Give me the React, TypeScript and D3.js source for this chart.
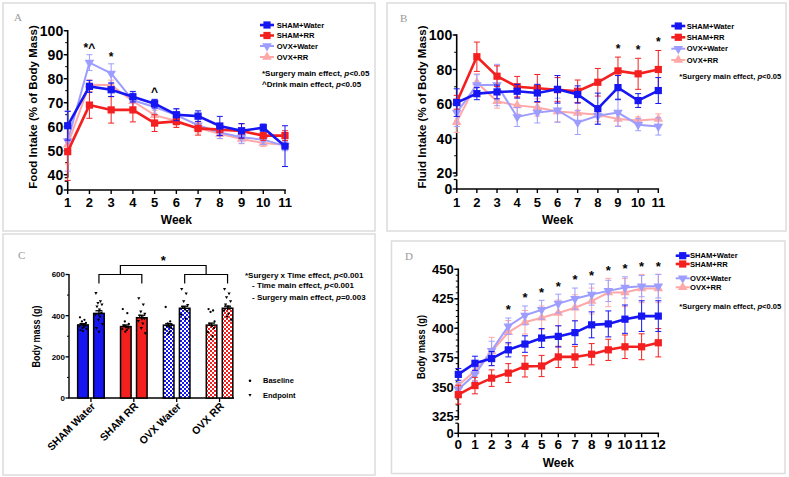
import * as d3 from 'd3';

// ---------- data: panel A (food intake, % of body mass) ----------
const weeksAB = [1, 2, 3, 4, 5, 6, 7, 8, 9, 10, 11];
const foodShamWater = [60.4, 76.8, 75.4, 72.5, 69.6, 65.0, 64.4, 60.3, 58.3, 59.6, 51.9];
const foodShamWaterErr = [6, 2.5, 2.8, 2.2, 1.8, 2.5, 2.2, 4, 3, 1.5, 8.5];
const foodShamRR = [49.6, 69.0, 67.0, 67.0, 61.5, 62.2, 59.3, 58.8, 58.2, 56.3, 56.3];
const foodShamRRErr = [12, 5.5, 5.5, 5, 3.5, 2.5, 2.8, 2.5, 3, 2, 2];
const foodOvxWater = [54.0, 86.7, 82.2, 71.0, 68.2, 64.8, 60.6, 57.6, 55.6, 54.6, 52.0];
const foodOvxWaterErr = [12.5, 3.3, 4, 3, 3, 2.5, 2.5, 2.5, 2.5, 2, 2];
const foodOvxRR = [52.5, 77.5, 77.4, 70.6, 64.8, 62.4, 59.4, 57.0, 54.9, 53.2, 52.5];
const foodOvxRRErr = [8, 2, 2, 2.5, 2, 2, 2, 2, 2, 1.5, 1.5];
const foodMarks = [
  { week: 2, text: '*^' },
  { week: 3, text: '*' },
  { week: 5, text: '^' },
];

// ---------- data: panel B (fluid intake, % of body mass) ----------
const fluidShamWater = [60.8, 66.0, 67.0, 67.4, 66.4, 68.5, 65.5, 57.3, 69.5, 62.0, 67.8];
const fluidShamWaterErr = [8, 3.5, 4, 4, 5, 8, 5, 9, 7, 4, 7.5];
const fluidShamRR = [61.0, 87.4, 76.1, 70.0, 69.1, 68.3, 67.4, 72.6, 79.2, 77.5, 80.0];
const fluidShamRRErr = [4, 8.5, 6, 6, 8, 7, 6.5, 8, 8, 9, 11];
const fluidOvxWater = [55.0, 71.0, 71.0, 52.5, 55.0, 56.4, 49.3, 53.2, 55.0, 48.0, 47.0];
const fluidOvxWaterErr = [8, 6, 12, 5.5, 6, 7, 7, 5, 8, 3.5, 5];
const fluidOvxRR = [49.5, 72.5, 61.6, 59.2, 58.0, 55.7, 54.8, 53.8, 51.3, 50.5, 51.3];
const fluidOvxRRErr = [6, 5, 4, 5, 5, 6, 6, 4, 4, 2, 3];
const fluidMarks = [
  { week: 9, text: '*' },
  { week: 10, text: '*' },
  { week: 11, text: '*' },
];

// ---------- data: panel D (body mass over time, g) ----------
const weeksD = [0, 1, 2, 3, 4, 5, 6, 7, 8, 9, 10, 11, 12];
const massShamWater = [360.9, 370.3, 374.3, 381.7, 386.6, 391.7, 393.1, 396.3, 402.9, 403.7, 407.7, 410.3, 410.3];
const massShamWaterErr = [5, 6, 6, 6, 7, 8, 9, 10, 11, 11, 12, 13, 13];
const massShamRR = [343.7, 351.4, 357.7, 362.0, 367.7, 368.0, 375.7, 375.7, 378.0, 381.7, 384.3, 384.3, 387.7];
const massShamRRErr = [8, 7, 7, 8, 9, 9, 9, 9, 9, 9, 10, 11, 12];
const massOvxWater = [348, 361, 381, 401.7, 410.9, 415.7, 420.9, 425.1, 428.6, 431.7, 434.6, 435.7, 435.7];
const massOvxWaterErr = [6, 6, 8, 7, 8, 8, 8, 9, 9, 9, 9, 9, 10];
const massOvxRR = [351.7, 363.7, 380.3, 396.6, 405.1, 408.9, 412.9, 417.4, 423.1, 430.3, 430.3, 433.7, 433.7];
const massOvxRRErr = [8, 8, 12, 10, 10, 10, 11, 11, 11, 12, 12, 12, 12];
const massMarks = [3, 4, 5, 6, 7, 8, 9, 10, 11, 12].map((w) => ({ week: w, text: '*' }));

// ---------- data: panel C (baseline vs endpoint body mass, g) ----------
const groupsC = ['SHAM Water', 'SHAM RR', 'OVX Water', 'OVX RR'];
const timesC = ['Baseline', 'Endpoint'];
const baselineMean = [355, 347, 354, 354];
const baselineErr = [6, 8, 7, 10];
const endpointMean = [411, 390, 436, 436];
const endpointErr = [13, 12, 10, 10];
const baselineDots = [
  [392, 380, 372, 365, 360, 356, 352, 348, 345, 340, 336, 330, 325],
  [432, 412, 372, 360, 352, 345, 340, 335, 330, 322],
  [442, 372, 362, 356, 350, 345, 340, 332, 322, 312],
  [432, 425, 418, 372, 360, 350, 340, 320, 300, 285],
];
const endpointDots = [
  [510, 470, 462, 455, 445, 430, 415, 405, 395, 380, 360, 340, 322],
  [485, 455, 420, 410, 400, 392, 385, 375, 362, 340, 315],
  [530, 508, 470, 452, 442, 432, 422, 405, 385],
  [530, 508, 490, 470, 455, 445, 435, 425, 410, 395, 380],
];

// ---------- styling ----------
const FONT = "'Liberation Sans', Arial, Helvetica, sans-serif";
const SERIF = "'Liberation Serif', 'DejaVu Serif', serif";
const BLUE = '#1616f2';
const RED = '#f42020';
const LBLUE = '#9d9dff';
const PINK = '#ffa8a8';
const FRAME = '#dcdcdc';

const jitter = [-3, 1.5, -1, 3, -2, 0.5, 2.5, -3.5, 1, -0.5, 3.5, -2.5, 0];

interface Series {
  name: string;
  color: string;
  shape: 'square' | 'down' | 'up';
  values: number[];
  errors: number[];
  width: number;
}

function symbolPath(shape: string, size: number) {
  const type = shape === 'square' ? d3.symbolSquare : d3.symbolTriangle;
  return d3.symbol().type(type).size(size)() as string;
}

function Marker({ shape, x, y, color, size }: { shape: string; x: number; y: number; color: string; size: number }) {
  const rot = shape === 'down' ? ' rotate(180)' : '';
  return <path d={symbolPath(shape, size)} transform={`translate(${x},${y})${rot}`} fill={color} />;
}

function makeSeries(vals: number[][], errs: number[][]): Series[] {
  return [
    { name: 'SHAM+Water', color: BLUE, shape: 'square', values: vals[0], errors: errs[0], width: 2.6 },
    { name: 'SHAM+RR', color: RED, shape: 'square', values: vals[1], errors: errs[1], width: 2.6 },
    { name: 'OVX+Water', color: LBLUE, shape: 'down', values: vals[2], errors: errs[2], width: 2 },
    { name: 'OVX+RR', color: PINK, shape: 'up', values: vals[3], errors: errs[3], width: 2 },
  ];
}

interface PanelCfg {
  weeks: number[];
  xRange: [number, number];
  yDomain: [number, number];
  yRange: [number, number];
  zeroY: number;
  yTicks: number[];
  minorStep: number;
  yTickFont: number;
  xTickFont: number;
  xLabelY: number;
  weekY: number;
  yTitle: string;
  yTitleX: number;
  yTitleY: number;
  yTitleFont: number;
  yTitleLen?: number;
  series: Series[];
  marks: { week: number; text: string }[];
  markGap: number;
  markFont: number;
}

function LinePanel({ cfg }: { cfg: PanelCfg }) {
  const x = d3.scaleLinear().domain([cfg.weeks[0], cfg.weeks[cfg.weeks.length - 1]]).range(cfg.xRange);
  const y = d3.scaleLinear().domain(cfg.yDomain).range(cfg.yRange);
  const ax = cfg.xRange[0];
  const yLow = y(cfg.yDomain[0]);
  const gapTop = yLow + 3;
  const gapBot = yLow + 6.5;
  const minor = d3.range(cfg.yDomain[0], cfg.yDomain[1] + 0.001, cfg.minorStep);
  const line = (s: Series) =>
    d3
      .line<number>()
      .x((_, i) => x(cfg.weeks[i]))
      .y((v) => y(v))(s.values) as string;

  return (
    <g fontFamily={FONT} fontWeight="bold">
      {/* y axis with break */}
      <line x1={ax} x2={ax} y1={y(cfg.yDomain[1]) - 0.7} y2={gapTop} stroke="#000" strokeWidth={1.6} />
      <line x1={ax - 3} x2={ax} y1={gapTop} y2={gapTop} stroke="#000" strokeWidth={1.2} />
      <line x1={ax - 3} x2={ax} y1={gapBot} y2={gapBot} stroke="#000" strokeWidth={1.2} />
      <line x1={ax} x2={ax} y1={gapBot} y2={cfg.zeroY} stroke="#000" strokeWidth={1.6} />
      {minor.map((v) => (
        <line key={'m' + v} x1={ax - 2.5} x2={ax} y1={y(v)} y2={y(v)} stroke="#000" strokeWidth={1} />
      ))}
      {cfg.yTicks.map((v) => (
        <g key={'t' + v}>
          <line x1={ax - 4} x2={ax} y1={y(v)} y2={y(v)} stroke="#000" strokeWidth={1.4} />
          <text x={ax - 4.5} y={y(v)} dy="0.36em" textAnchor="end" fontSize={cfg.yTickFont}>
            {v}
          </text>
        </g>
      ))}
      <line x1={ax - 4} x2={ax} y1={cfg.zeroY} y2={cfg.zeroY} stroke="#000" strokeWidth={1.4} />
      <text x={ax - 4.5} y={cfg.zeroY} dy="0.36em" textAnchor="end" fontSize={cfg.yTickFont}>
        0
      </text>
      {/* x axis */}
      <line x1={ax - 0.8} x2={cfg.xRange[1] + 0.8} y1={cfg.zeroY} y2={cfg.zeroY} stroke="#000" strokeWidth={1.6} />
      {cfg.weeks.map((w) => (
        <g key={'x' + w}>
          <line x1={x(w)} x2={x(w)} y1={cfg.zeroY} y2={cfg.zeroY + 4} stroke="#000" strokeWidth={1.4} />
          <text x={x(w)} y={cfg.xLabelY} textAnchor="middle" fontSize={cfg.xTickFont}>
            {w}
          </text>
        </g>
      ))}
      <text x={(cfg.xRange[0] + cfg.xRange[1]) / 2} y={cfg.weekY} textAnchor="middle" fontSize={12}>
        Week
      </text>
      <text
        transform={`translate(${cfg.yTitleX},${cfg.yTitleY}) rotate(-90)`}
        textAnchor="middle"
        dy="0.36em"
        fontSize={cfg.yTitleFont}
        textLength={cfg.yTitleLen}
        lengthAdjust={cfg.yTitleLen ? 'spacingAndGlyphs' : undefined}
      >
        {cfg.yTitle}
      </text>

      {/* series, drawn back to front */}
      {[...cfg.series].reverse().map((s) => (
        <g key={s.name}>
          {s.values.map((v, i) => {
            const px = x(cfg.weeks[i]);
            const t = y(v + s.errors[i]);
            const b = y(v - s.errors[i]);
            return (
              <g key={i} stroke={s.color} strokeWidth={1}>
                <line x1={px} x2={px} y1={t} y2={b} />
                <line x1={px - 3} x2={px + 3} y1={t} y2={t} />
                <line x1={px - 3} x2={px + 3} y1={b} y2={b} />
              </g>
            );
          })}
          <path d={line(s)} fill="none" stroke={s.color} strokeWidth={s.width} />
          {s.values.map((v, i) => (
            <Marker key={i} shape={s.shape} x={x(cfg.weeks[i])} y={y(v)} color={s.color} size={s.shape === 'square' ? 52 : 40} />
          ))}
        </g>
      ))}

      {/* significance marks */}
      {cfg.marks.map((m) => {
        const i = cfg.weeks.indexOf(m.week);
        const top = d3.max(cfg.series, (s) => s.values[i] + s.errors[i]) as number;
        const cy = y(top) - cfg.markGap;
        return (
          <text key={'k' + m.week} x={x(m.week)} y={cy + 0.57 * cfg.markFont} textAnchor="middle" fontSize={cfg.markFont}>
            {m.text}
          </text>
        );
      })}
    </g>
  );
}

function Legend({ series, mx, tx, rows, font }: { series: Series[]; mx: number; tx: number; rows: number[]; font: number }) {
  return (
    <g fontFamily={FONT} fontWeight="bold">
      {series.map((s, i) => (
        <g key={s.name}>
          <line x1={mx - 7} x2={mx + 7} y1={rows[i]} y2={rows[i]} stroke={s.color} strokeWidth={s.width} />
          <Marker shape={s.shape} x={mx} y={rows[i]} color={s.color} size={s.shape === 'square' ? 52 : 40} />
          <text x={tx} y={rows[i]} dy="0.36em" fontSize={font}>
            {s.name}
          </text>
        </g>
      ))}
    </g>
  );
}

function Note({ x, y, pre, post, font }: { x: number; y: number; pre: string; post: string; font: number }) {
  return (
    <text x={x} y={y} dy="0.36em" fontFamily={FONT} fontWeight="bold" fontSize={font}>
      {pre}
      <tspan fontStyle="italic">p</tspan>
      {post}
    </text>
  );
}

function BarPanel() {
  const xC = d3.scaleBand().domain(groupsC).range([69.5, 241]);
  const sub = d3.scaleBand().domain(timesC).range([0, xC.bandwidth()]).paddingInner(0.34).paddingOuter(0.51);
  const yC = d3.scaleLinear().domain([0, 600]).range([398, 274.5]);
  const fills = [BLUE, RED, 'url(#chkBlue)', 'url(#chkRed)'];
  const bw = sub.bandwidth();
  const ax = 69;
  const cx = (g: string, t: string) => (xC(g) as number) + (sub(t) as number) + bw / 2;
  const yTop = yC(600);
  const e = (g: number) => cx(groupsC[g], 'Endpoint');
  const tri = symbolPath('up', 4.5);

  return (
    <g fontFamily={FONT} fontWeight="bold">
      <defs>
        <pattern id="chkBlue" width="4" height="4" patternUnits="userSpaceOnUse">
          <rect width="4" height="4" fill="#fff" />
          <rect width="2" height="2" fill={BLUE} />
          <rect x="2" y="2" width="2" height="2" fill={BLUE} />
        </pattern>
        <pattern id="chkRed" width="4" height="4" patternUnits="userSpaceOnUse">
          <rect width="4" height="4" fill="#fff" />
          <rect width="2" height="2" fill={RED} />
          <rect x="2" y="2" width="2" height="2" fill={RED} />
        </pattern>
      </defs>
      {/* axes */}
      <line x1={ax} x2={ax} y1={yTop - 0.6} y2={yC(0)} stroke="#000" strokeWidth={1.4} />
      {[100, 300, 500].map((v) => (
        <line key={v} x1={ax - 2} x2={ax} y1={yC(v)} y2={yC(v)} stroke="#000" strokeWidth={1} />
      ))}
      {[0, 200, 400, 600].map((v) => (
        <g key={v}>
          <line x1={ax - 3.5} x2={ax} y1={yC(v)} y2={yC(v)} stroke="#000" strokeWidth={1.3} />
          <text x={ax - 4} y={yC(v)} dy="0.36em" textAnchor="end" fontSize={8}>
            {v}
          </text>
        </g>
      ))}
      <line x1={ax - 0.6} x2={234} y1={yC(0)} y2={yC(0)} stroke="#000" strokeWidth={1.4} />
      <text transform={`translate(36.5,336.5) rotate(-90)`} textAnchor="middle" dy="0.36em" fontSize={10} textLength={62} lengthAdjust="spacingAndGlyphs">
        Body mass (g)
      </text>

      {groupsC.map((g, gi) => {
        const gc = (xC(g) as number) + xC.bandwidth() / 2;
        return (
          <g key={g}>
            <line x1={gc} x2={gc} y1={yC(0)} y2={yC(0) + 4} stroke="#000" strokeWidth={1.3} />
            <text transform={`translate(${gc + 5},${yC(0) + 9}) rotate(-45)`} textAnchor="end" fontSize={10.5}>
              {g}
            </text>
            {timesC.map((t) => {
              const mean = t === 'Baseline' ? baselineMean[gi] : endpointMean[gi];
              const err = t === 'Baseline' ? baselineErr[gi] : endpointErr[gi];
              const dots = t === 'Baseline' ? baselineDots[gi] : endpointDots[gi];
              const c = cx(g, t);
              return (
                <g key={t}>
                  <rect
                    x={c - bw / 2}
                    y={yC(mean)}
                    width={bw}
                    height={yC(0) - yC(mean)}
                    fill={fills[gi]}
                    stroke="#000"
                    strokeWidth={1.5}
                  />
                  <line x1={c} x2={c} y1={yC(mean + err)} y2={yC(mean - err)} stroke="#000" strokeWidth={1.3} />
                  <line x1={c - 3.5} x2={c + 3.5} y1={yC(mean + err)} y2={yC(mean + err)} stroke="#000" strokeWidth={1.3} />
                  {dots.map((v, i) =>
                    t === 'Baseline' ? (
                      <circle key={i} cx={c + jitter[i % jitter.length]} cy={yC(v)} r={1.15} fill="#000" />
                    ) : (
                      <path key={i} d={tri} transform={`translate(${c + jitter[i % jitter.length]},${yC(v)}) rotate(180)`} fill="#000" />
                    )
                  )}
                </g>
              );
            })}
          </g>
        );
      })}

      {/* brackets */}
      <g stroke="#000" strokeWidth={1.2} fill="none">
        <path d={`M${e(0)},${yTop + 9}V${yTop}H${e(1)}V${yTop + 9}`} />
        <path d={`M${e(2)},${yTop + 9}V${yTop}H${e(3)}V${yTop + 9}`} />
        <path d={`M${(e(0) + e(1)) / 2},${yTop}V${yTop - 9}H${(e(2) + e(3)) / 2}V${yTop}`} />
      </g>
      <text x={((e(0) + e(1)) / 2 + (e(2) + e(3)) / 2) / 2} y={yTop - 10} textAnchor="middle" fontSize={13}>
        *
      </text>

      <Note x={245} y={275} pre="*Surgery x Time effect, " post="<0.001" font={8} />
      <Note x={252} y={285} pre="- Time main effect, " post="<0.001" font={8} />
      <Note x={252} y={297} pre="- Surgery main effect, " post="=0.003" font={8} />

      <circle cx={250} cy={380.7} r={1.3} fill="#000" />
      <text x={263} y={380.7} dy="0.36em" fontSize={7.5}>
        Baseline
      </text>
      <path d={tri} transform="translate(250,395) rotate(180)" fill="#000" />
      <text x={263} y={395} dy="0.36em" fontSize={7.5}>
        Endpoint
      </text>
    </g>
  );
}

export default function App() {
  const seriesA = makeSeries(
    [foodShamWater, foodShamRR, foodOvxWater, foodOvxRR],
    [foodShamWaterErr, foodShamRRErr, foodOvxWaterErr, foodOvxRRErr]
  );
  const seriesB = makeSeries(
    [fluidShamWater, fluidShamRR, fluidOvxWater, fluidOvxRR],
    [fluidShamWaterErr, fluidShamRRErr, fluidOvxWaterErr, fluidOvxRRErr]
  );
  const seriesD = makeSeries(
    [massShamWater, massShamRR, massOvxWater, massOvxRR],
    [massShamWaterErr, massShamRRErr, massOvxWaterErr, massOvxRRErr]
  );

  const cfgA: PanelCfg = {
    weeks: weeksAB,
    xRange: [67.7, 285],
    yDomain: [40, 100],
    yRange: [174.7, 30.7],
    zeroY: 190,
    yTicks: [40, 50, 60, 70, 80, 90, 100],
    minorStep: 5,
    yTickFont: 14,
    xTickFont: 13,
    xLabelY: 206.5,
    weekY: 224,
    yTitle: 'Food Intake (% of Body Mass)',
    yTitleX: 33,
    yTitleY: 107,
    yTitleFont: 11.5,
    series: seriesA,
    marks: foodMarks,
    markGap: 10,
    markFont: 12,
  };
  const cfgB: PanelCfg = {
    weeks: weeksAB,
    xRange: [456.7, 658.3],
    yDomain: [20, 100],
    yRange: [173, 35],
    zeroY: 189,
    yTicks: [20, 40, 60, 80, 100],
    minorStep: 10,
    yTickFont: 14,
    xTickFont: 13,
    xLabelY: 206.5,
    weekY: 224,
    yTitle: 'Fluid Intake (% of Body Mass)',
    yTitleX: 422,
    yTitleY: 107,
    yTitleFont: 11.5,
    series: seriesB,
    marks: fluidMarks,
    markGap: 11,
    markFont: 12,
  };
  const cfgD: PanelCfg = {
    weeks: weeksD,
    xRange: [458.3, 658.3],
    yDomain: [325, 450],
    yRange: [416.7, 269.3],
    zeroY: 433.3,
    yTicks: [325, 350, 375, 400, 425, 450],
    minorStep: 5,
    yTickFont: 13,
    xTickFont: 13.5,
    xLabelY: 449.3,
    weekY: 466.5,
    yTitle: 'Body mass (g)',
    yTitleX: 421,
    yTitleY: 347,
    yTitleFont: 11.5,
    yTitleLen: 64,
    series: seriesD,
    marks: massMarks,
    markGap: 11,
    markFont: 13,
  };

  return (
    <svg width={789} height={477} style={{ position: 'absolute', left: 0, top: 0, background: '#fff' }}>
      <rect x={0} y={0} width={789} height={477} fill="#fff" />
      {/* panel frames */}
      <g fill="#fff" stroke={FRAME} strokeWidth={1.5}>
        <rect x={3} y={3} width={372} height={228} />
        <rect x={387} y={3} width={399} height={228} />
        <rect x={3} y={234} width={372} height={241} />
        <rect x={391.5} y={241} width={393.5} height={232.5} />
      </g>
      <g fontFamily={SERIF} fontSize={11} fill="#9a9a9a">
        <text x={14} y={20.7}>A</text>
        <text x={400} y={21.5}>B</text>
        <text x={18} y={258.5}>C</text>
        <text x={405} y={260}>D</text>
      </g>

      <LinePanel cfg={cfgA} />
      <Legend series={seriesA} mx={267} tx={276.7} rows={[25, 35.5, 46, 57]} font={7.6} />
      <Note x={262} y={73} pre="*Surgery main effect, " post="<0.05" font={8} />
      <Note x={262} y={84} pre="^Drink main effect, " post="<0.05" font={8} />

      <LinePanel cfg={cfgB} />
      <Legend series={seriesB} mx={678.3} tx={686.7} rows={[26, 37.3, 48.7, 60]} font={7.6} />
      <Note x={679.3} y={76} pre="*Surgery main effect, " post="<0.05" font={7.6} />

      <BarPanel />

      <LinePanel cfg={cfgD} />
      <Legend series={seriesD} mx={682.7} tx={690} rows={[255.7, 264, 278.3, 287.3]} font={7.6} />
      <Note x={679.3} y={306.7} pre="*Surgery main effect, " post="<0.05" font={7.6} />
    </svg>
  );
}
